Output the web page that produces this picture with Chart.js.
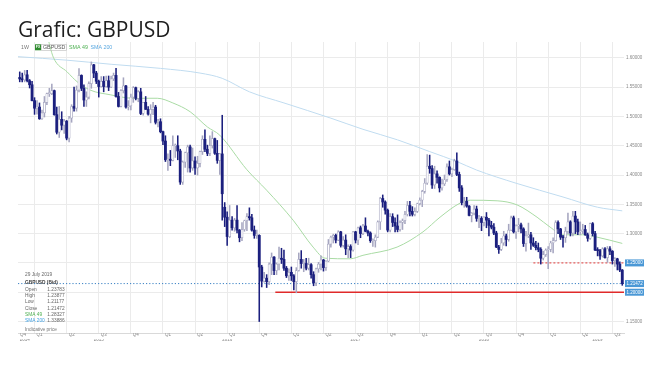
<!DOCTYPE html>
<html>
<head>
<meta charset="utf-8">
<script src="https://cdn.jsdelivr.net/npm/chart.js@4.4.1/dist/chart.umd.min.js"></script>
<style>
html, body { margin: 0; padding: 0; background: #fff; }
#wrap { position: relative; width: 660px; height: 365px; }
#title { position: absolute; left: 18px; top: 15px; font-family: "Open Sans", sans-serif; font-size: 21px; line-height: 28px; color: #1e1e1e; white-space: nowrap; }
canvas { position: absolute; left: 0; top: 0; }
</style>
</head>
<body>
<div id="wrap">
  <canvas id="chart" width="660" height="365"></canvas>
  <div id="title">Grafic: GBPUSD</div>
</div>
<script>
// Weekly GBPUSD candles, week of 24 Nov 2014 (index 0) to week of 29 Jul 2019
const opens = [
  1.5665, 1.5640, 1.5625, 1.5710, 1.5610, 1.5540,
  1.5270, 1.5140, 1.5160, 1.4960, 1.5060, 1.5240, 1.5390, 1.5390, 1.5440, 1.5030, 1.4730, 1.4950, 1.4850,
  1.4920, 1.4630, 1.4970, 1.5170, 1.5140, 1.5450, 1.5700, 1.5480, 1.5280, 1.5330, 1.5560, 1.5880, 1.5740,
  1.5600, 1.5510, 1.5600, 1.5510, 1.5610, 1.5500, 1.5640, 1.5700, 1.5340, 1.5170, 1.5440, 1.5520, 1.5160,
  1.5180, 1.5330, 1.5490, 1.5310, 1.5420, 1.5050, 1.5240, 1.5120, 1.5040, 1.5120, 1.5160, 1.4900, 1.4910,
  1.4740, 1.4580, 1.4260, 1.4270, 1.4250, 1.4500, 1.4500, 1.4410, 1.3880, 1.4220, 1.4380, 1.4480, 1.4120,
  1.4240, 1.4120, 1.4200, 1.4400, 1.4610, 1.4440, 1.4370, 1.4500, 1.4620, 1.4370, 1.4250, 1.4360, 1.3450,
  1.3280, 1.2950, 1.3230, 1.3100, 1.3230, 1.3060, 1.2930, 1.3070, 1.3220, 1.3290, 1.3270, 1.3060, 1.2970,
  1.2970, 1.2430, 1.2190, 1.2240, 1.2180, 1.2480, 1.2600, 1.2370, 1.2480, 1.2580, 1.2560, 1.2410, 1.2280,
  1.2340, 1.2280, 1.2180, 1.2370, 1.2560, 1.2490, 1.2490, 1.2410, 1.2470, 1.2300, 1.2160, 1.2400, 1.2480,
  1.2550, 1.2420, 1.2530, 1.2820, 1.2940, 1.2970, 1.2890, 1.3030, 1.2800, 1.2890, 1.2740, 1.2780, 1.2720,
  1.3030, 1.2890, 1.3100, 1.3000, 1.3130, 1.3040, 1.3010, 1.2880, 1.2880, 1.2940, 1.3200, 1.3600, 1.3540,
  1.3400, 1.3060, 1.3290, 1.3190, 1.3130, 1.3070, 1.3190, 1.3220, 1.3330, 1.3480, 1.3380, 1.3330, 1.3380,
  1.3510, 1.3570, 1.3720, 1.3860, 1.4150, 1.4110, 1.3830, 1.4020, 1.3960, 1.3780, 1.3850, 1.3920, 1.4140,
  1.4020, 1.4090, 1.4240, 1.4010, 1.3780, 1.3530, 1.3550, 1.3470, 1.3310, 1.3350, 1.3420, 1.3260, 1.3260,
  1.3190, 1.3280, 1.3230, 1.3140, 1.3110, 1.3010, 1.2770, 1.2730, 1.2840, 1.2960, 1.2900, 1.3060, 1.3270,
  1.3030, 1.3130, 1.3150, 1.3080, 1.2830, 1.2960, 1.2980, 1.2840, 1.2800, 1.2760, 1.2730, 1.2580, 1.2640,
  1.2720, 1.2730, 1.2840, 1.2880, 1.3190, 1.3080, 1.2940, 1.2930, 1.3040, 1.3200, 1.3010, 1.3300, 1.3200,
  1.3030, 1.3050, 1.3070, 1.2980, 1.2920, 1.3170, 1.3000, 1.2720, 1.2710, 1.2620, 1.2740, 1.2590, 1.2740,
  1.2700, 1.2540, 1.2570, 1.2480, 1.23783
];
const highs = [
  1.5760, 1.5740, 1.5785, 1.5785, 1.5630, 1.5600,
  1.5320, 1.5270, 1.5230, 1.5110, 1.5340, 1.5400, 1.5480, 1.5550, 1.5450, 1.5160, 1.5170, 1.5080, 1.4950,
  1.4930, 1.5000, 1.5200, 1.5500, 1.5520, 1.5815, 1.5710, 1.5540, 1.5420, 1.5590, 1.5930, 1.5890, 1.5770,
  1.5620, 1.5680, 1.5680, 1.5690, 1.5690, 1.5690, 1.5740, 1.5820, 1.5410, 1.5460, 1.5660, 1.5530, 1.5270,
  1.5380, 1.5510, 1.5500, 1.5440, 1.5480, 1.5240, 1.5340, 1.5170, 1.5200, 1.5240, 1.5190, 1.4950, 1.4960,
  1.4750, 1.4670, 1.4360, 1.4420, 1.4670, 1.4530, 1.4670, 1.4440, 1.4240, 1.4390, 1.4510, 1.4510, 1.4460,
  1.4310, 1.4320, 1.4410, 1.4670, 1.4770, 1.4510, 1.4670, 1.4740, 1.4630, 1.4590, 1.4370, 1.5020, 1.3530,
  1.3370, 1.3480, 1.3290, 1.3260, 1.3480, 1.3070, 1.3190, 1.3230, 1.3340, 1.3440, 1.3330, 1.3130, 1.3060,
  1.2980, 1.2460, 1.2340, 1.2300, 1.2500, 1.2670, 1.2610, 1.2500, 1.2770, 1.2750, 1.2720, 1.2440, 1.2400,
  1.2430, 1.2300, 1.2420, 1.2670, 1.2710, 1.2560, 1.2580, 1.2580, 1.2490, 1.2350, 1.2410, 1.2510, 1.2620,
  1.2560, 1.2540, 1.2900, 1.2960, 1.2990, 1.2990, 1.3050, 1.3040, 1.2950, 1.2980, 1.2810, 1.2810, 1.3040,
  1.3040, 1.3110, 1.3130, 1.3160, 1.3270, 1.3060, 1.3030, 1.2910, 1.2980, 1.3220, 1.3620, 1.3660, 1.3560,
  1.3420, 1.3340, 1.3340, 1.3270, 1.3320, 1.3220, 1.3250, 1.3380, 1.3550, 1.3550, 1.3460, 1.3440, 1.3520,
  1.3610, 1.3740, 1.3940, 1.4350, 1.4340, 1.4160, 1.4150, 1.4070, 1.3970, 1.3930, 1.4000, 1.4190, 1.4240,
  1.4120, 1.4270, 1.4380, 1.4050, 1.3820, 1.3620, 1.3620, 1.3480, 1.3360, 1.3480, 1.3470, 1.3310, 1.3290,
  1.3290, 1.3360, 1.3260, 1.3210, 1.3170, 1.3040, 1.2800, 1.2920, 1.3040, 1.2990, 1.3160, 1.3300, 1.3300,
  1.3150, 1.3260, 1.3180, 1.3100, 1.3040, 1.3180, 1.3020, 1.2930, 1.2870, 1.2840, 1.2760, 1.2700, 1.2740,
  1.2780, 1.2870, 1.2930, 1.3220, 1.3220, 1.3090, 1.2970, 1.3110, 1.3350, 1.3220, 1.3380, 1.3380, 1.3250,
  1.3200, 1.3160, 1.3140, 1.3010, 1.3180, 1.3190, 1.3040, 1.2760, 1.2730, 1.2760, 1.2760, 1.2780, 1.2780,
  1.2710, 1.2590, 1.2580, 1.2520, 1.23877
];
const lows = [
  1.5590, 1.5590, 1.5590, 1.5590, 1.5485, 1.5265,
  1.5035, 1.5040, 1.4950, 1.4950, 1.4990, 1.5200, 1.5340, 1.5370, 1.5020, 1.4700, 1.4640, 1.4770, 1.4710,
  1.4600, 1.4565, 1.4900, 1.5090, 1.5090, 1.5420, 1.5440, 1.5170, 1.5170, 1.5300, 1.5480, 1.5660, 1.5560,
  1.5330, 1.5500, 1.5420, 1.5500, 1.5440, 1.5490, 1.5610, 1.5330, 1.5160, 1.5160, 1.5400, 1.5140, 1.5110,
  1.5110, 1.5240, 1.5280, 1.5250, 1.5030, 1.5020, 1.5120, 1.5020, 1.4890, 1.5030, 1.4870, 1.4820, 1.4720,
  1.4520, 1.4230, 1.4080, 1.4160, 1.4240, 1.4300, 1.4260, 1.3840, 1.3840, 1.4130, 1.4050, 1.4050, 1.4080,
  1.4010, 1.4000, 1.4140, 1.4350, 1.4400, 1.4330, 1.4330, 1.4460, 1.4350, 1.4200, 1.4010, 1.3230, 1.3120,
  1.2800, 1.2930, 1.3060, 1.3040, 1.3010, 1.2860, 1.2880, 1.3040, 1.3050, 1.3230, 1.3040, 1.2920, 1.2920,
  1.1500, 1.2090, 1.2170, 1.2080, 1.2130, 1.2300, 1.2300, 1.2300, 1.2380, 1.2490, 1.2370, 1.2250, 1.2200,
  1.2200, 1.2040, 1.1990, 1.2360, 1.2410, 1.2350, 1.2380, 1.2380, 1.2240, 1.2110, 1.2110, 1.2340, 1.2380,
  1.2360, 1.2370, 1.2520, 1.2770, 1.2840, 1.2840, 1.2880, 1.2770, 1.2770, 1.2640, 1.2590, 1.2590, 1.2700,
  1.2840, 1.2810, 1.2930, 1.2980, 1.3030, 1.2960, 1.2850, 1.2780, 1.2770, 1.2930, 1.3070, 1.3450, 1.3330,
  1.3030, 1.3030, 1.3120, 1.3030, 1.3030, 1.3040, 1.3070, 1.3170, 1.3300, 1.3300, 1.3300, 1.3300, 1.3360,
  1.3490, 1.3460, 1.3690, 1.3840, 1.4030, 1.3770, 1.3770, 1.3860, 1.3710, 1.3740, 1.3820, 1.3890, 1.4000,
  1.3970, 1.4080, 1.3990, 1.3720, 1.3490, 1.3450, 1.3450, 1.3300, 1.3200, 1.3320, 1.3210, 1.3100, 1.3050,
  1.3130, 1.3100, 1.2960, 1.3080, 1.2980, 1.2760, 1.2660, 1.2710, 1.2800, 1.2790, 1.2870, 1.3050, 1.3010,
  1.2920, 1.3030, 1.3010, 1.2780, 1.2700, 1.2930, 1.2730, 1.2780, 1.2720, 1.2690, 1.2480, 1.2550, 1.2610,
  1.2400, 1.2690, 1.2670, 1.2870, 1.3000, 1.2900, 1.2770, 1.2850, 1.3000, 1.2960, 1.2960, 1.3000, 1.2980,
  1.2980, 1.3000, 1.2970, 1.2870, 1.2900, 1.2960, 1.2710, 1.2620, 1.2560, 1.2600, 1.2580, 1.2510, 1.2640,
  1.2480, 1.2440, 1.2380, 1.2350, 1.21177
];
const closes = [
  1.5640, 1.5625, 1.5710, 1.5610, 1.5540, 1.5270,
  1.5140, 1.5160, 1.4960, 1.5060, 1.5240, 1.5390, 1.5390, 1.5440, 1.5030, 1.4730, 1.4950, 1.4850, 1.4920,
  1.4630, 1.4970, 1.5170, 1.5140, 1.5450, 1.5700, 1.5480, 1.5280, 1.5330, 1.5560, 1.5880, 1.5740, 1.5600,
  1.5510, 1.5600, 1.5510, 1.5610, 1.5500, 1.5640, 1.5700, 1.5340, 1.5170, 1.5440, 1.5520, 1.5160, 1.5180,
  1.5330, 1.5490, 1.5310, 1.5420, 1.5050, 1.5240, 1.5120, 1.5040, 1.5120, 1.5160, 1.4900, 1.4910, 1.4740,
  1.4580, 1.4260, 1.4270, 1.4250, 1.4500, 1.4500, 1.4410, 1.3880, 1.4220, 1.4380, 1.4480, 1.4120, 1.4240,
  1.4120, 1.4200, 1.4400, 1.4610, 1.4440, 1.4370, 1.4500, 1.4620, 1.4370, 1.4250, 1.4360, 1.3680, 1.3280,
  1.2950, 1.3230, 1.3100, 1.3230, 1.3060, 1.2930, 1.3070, 1.3220, 1.3290, 1.3270, 1.3060, 1.2970, 1.2970,
  1.2430, 1.2190, 1.2240, 1.2180, 1.2480, 1.2600, 1.2370, 1.2480, 1.2580, 1.2560, 1.2410, 1.2280, 1.2340,
  1.2280, 1.2180, 1.2370, 1.2560, 1.2490, 1.2490, 1.2410, 1.2470, 1.2300, 1.2160, 1.2400, 1.2480, 1.2550,
  1.2420, 1.2530, 1.2820, 1.2940, 1.2970, 1.2890, 1.3030, 1.2800, 1.2890, 1.2740, 1.2780, 1.2720, 1.3030,
  1.2890, 1.3100, 1.3000, 1.3130, 1.3040, 1.3010, 1.2880, 1.2880, 1.2940, 1.3200, 1.3600, 1.3540, 1.3400,
  1.3060, 1.3290, 1.3190, 1.3130, 1.3070, 1.3190, 1.3220, 1.3330, 1.3480, 1.3380, 1.3330, 1.3380, 1.3510,
  1.3570, 1.3720, 1.3860, 1.4150, 1.4110, 1.3830, 1.4020, 1.3960, 1.3780, 1.3850, 1.3920, 1.4140, 1.4020,
  1.4090, 1.4240, 1.4010, 1.3780, 1.3530, 1.3550, 1.3470, 1.3310, 1.3350, 1.3420, 1.3260, 1.3260, 1.3190,
  1.3280, 1.3230, 1.3140, 1.3110, 1.3010, 1.2770, 1.2730, 1.2840, 1.2960, 1.2900, 1.3060, 1.3270, 1.3030,
  1.3130, 1.3150, 1.3080, 1.2830, 1.2960, 1.2980, 1.2840, 1.2800, 1.2760, 1.2730, 1.2580, 1.2640, 1.2720,
  1.2730, 1.2840, 1.2880, 1.3190, 1.3080, 1.2940, 1.2930, 1.3040, 1.3200, 1.3010, 1.3300, 1.3200, 1.3030,
  1.3050, 1.3070, 1.2980, 1.2920, 1.3170, 1.3000, 1.2720, 1.2710, 1.2620, 1.2740, 1.2590, 1.2740, 1.2700,
  1.2540, 1.2570, 1.2480, 1.23783, 1.21472
];

// moving averages (week index -> price)
const sma49Weeks  = [11, 13.6, 19.2, 23.3, 28.5, 36.6, 46, 55.7, 62, 69, 76, 81, 92, 100, 110.7, 118.8, 123.7, 133.8, 139, 152.8, 163.3, 170.2, 178.3, 182.4, 193.3, 201.4, 209.5, 214.8, 220, 228, 233.8, 244];
const sma49Values = [1.640, 1.601, 1.576, 1.559, 1.545, 1.537, 1.531, 1.531, 1.523, 1.508, 1.482, 1.468, 1.409, 1.374, 1.323, 1.277, 1.258, 1.257, 1.263, 1.277, 1.303, 1.328, 1.352, 1.357, 1.356, 1.349, 1.328, 1.311, 1.298, 1.298, 1.294, 1.28327];
const sma200Weeks  = [-0.7, 19, 37, 57, 73, 82, 93, 107, 126, 139, 153, 166, 177, 185, 201, 220, 234, 244];
const sma200Values = [1.602, 1.596, 1.589, 1.582, 1.574, 1.565, 1.542, 1.523, 1.497, 1.478, 1.460, 1.440, 1.423, 1.4085, 1.386, 1.3625, 1.345, 1.33886];

// horizontal levels
const levelPrices = [1.25, 1.21472, 1.20];
const levelStartWeeks = [208, -0.7, 103.5];

// axes
const quarterTickWeeks = [-0.7, 6, 19, 32, 45, 58, 71, 84, 97, 110, 123, 136, 149, 162, 175, 188, 201, 214, 227, 240];
const quarterTickLabels = ['Q4', 'Q1', 'Q2', 'Q3', 'Q4', 'Q1', 'Q2', 'Q3', 'Q4', 'Q1', 'Q2', 'Q3', 'Q4', 'Q1', 'Q2', 'Q3', 'Q4', 'Q1', 'Q2', 'Q3'];
const yearTickWeeks = [2, 32, 84, 136, 188, 234];
const yearTickLabels = ['2014', '2015', '2016', '2017', '2018', '2019'];
const priceTicks = [1.15, 1.20, 1.25, 1.30, 1.35, 1.40, 1.45, 1.50, 1.55, 1.60];

if (opens.length !== closes.length || highs.length !== closes.length || lows.length !== closes.length) {
    throw new Error('length mismatch ' + [opens.length, highs.length, lows.length, closes.length].join(','));
}

const xMin = -0.7, xMax = 244.7;
const yMin = 1.1304, yMax = 1.627;
const bearColor = '#1b1f7e';
const bullLine = '#a6a6c0';
const tinyFont = '"Liberation Sans", Arial, sans-serif';

const isBull = i => closes[i] >= opens[i];

const overlayPlugin = {
    id: 'overlay',
    afterDraw(chart) {
        const { ctx, chartArea, scales: { y } } = chart;
        const last = closes.length - 1;
        ctx.save();
        ctx.textBaseline = 'middle';

        // price badges on the right axis
        levelPrices.forEach(p => {
            const py = y.getPixelForValue(p);
            ctx.fillStyle = '#4a98d6';
            ctx.fillRect(chartArea.right + 1, py - 3.5, 19, 7);
            ctx.fillStyle = '#ffffff';
            ctx.font = '4.5px ' + tinyFont;
            ctx.fillText(p.toFixed(5), chartArea.right + 2.5, py + 0.3);
        });

        // legend row
        ctx.font = '5.3px ' + tinyFont;
        ctx.fillStyle = '#777';
        ctx.fillText('1W', 21, 47.5);
        ctx.fillStyle = '#2e8b2e';
        ctx.fillRect(35, 44.3, 6, 6);
        ctx.fillStyle = '#fff';
        ctx.font = 'bold 3.5px ' + tinyFont;
        ctx.fillText('FX', 35.8, 47.5);
        ctx.strokeStyle = '#bbb';
        ctx.lineWidth = 0.6;
        ctx.strokeRect(41.5, 44.3, 25, 6.2);
        ctx.font = '5.3px ' + tinyFont;
        ctx.fillStyle = '#555';
        ctx.fillText('GBPUSD', 43, 47.5);
        ctx.fillStyle = '#4caf50';
        ctx.fillText('SMA 49', 69, 47.5);
        ctx.fillStyle = '#5aa8e0';
        ctx.fillText('SMA 200', 90.5, 47.5);

        // info box
        ctx.font = '4.8px ' + tinyFont;
        ctx.fillStyle = '#666';
        ctx.fillText('29 July 2019', 25, 274.3);
        ctx.fillStyle = '#444';
        ctx.font = 'bold 4.8px ' + tinyFont;
        ctx.fillText('GBPUSD (Bid)', 25, 282.3);
        ctx.font = '4.8px ' + tinyFont;
        const rows = [
            ['Open', opens[last], '#666'],
            ['High', highs[last], '#666'],
            ['Low', lows[last], '#666'],
            ['Close', closes[last], '#666'],
            ['SMA 49', sma49Values[sma49Values.length - 1], '#4caf50'],
            ['SMA 200', sma200Values[sma200Values.length - 1], '#42a0e0']
        ];
        rows.forEach((r, k) => {
            const ry = 289.3 + k * 6.3;
            ctx.fillStyle = r[2];
            ctx.fillText(r[0], 25, ry);
            ctx.fillStyle = '#666';
            ctx.fillText(r[1].toFixed(5), 47.3, ry);
        });
        ctx.fillStyle = '#777';
        ctx.fillText('Indicative price', 25, 329.3);
        ctx.restore();
    }
};

new Chart(document.getElementById('chart'), {
    type: 'line',
    data: {
        datasets: [
            {
                type: 'bar',
                label: 'bodies',
                data: closes.map((c, i) => ({ x: i, y: [opens[i], c] })),
                grouped: false,
                barThickness: 2.2,
                minBarLength: 1,
                borderWidth: ctx => isBull(ctx.dataIndex) ? 0.7 : 0,
                borderSkipped: false,
                backgroundColor: ctx => isBull(ctx.dataIndex) ? '#ffffff' : bearColor,
                borderColor: bullLine,
                order: 0
            },
            {
                type: 'bar',
                label: 'wicks',
                data: closes.map((c, i) => ({ x: i, y: [lows[i], highs[i]] })),
                grouped: false,
                barThickness: 0.9,
                borderWidth: 0,
                backgroundColor: ctx => isBull(ctx.dataIndex) ? bullLine : bearColor,
                order: 1
            },
            {
                label: 'level 1.25',
                data: [{ x: levelStartWeeks[0], y: levelPrices[0] }, { x: xMax, y: levelPrices[0] }],
                borderColor: '#e23b3b',
                borderWidth: 1,
                borderDash: [2, 2],
                pointRadius: 0,
                order: 2
            },
            {
                label: 'close',
                data: [{ x: levelStartWeeks[1], y: levelPrices[1] }, { x: xMax, y: levelPrices[1] }],
                borderColor: '#3b82c4',
                borderWidth: 1,
                borderDash: [1.2, 2],
                pointRadius: 0,
                order: 2
            },
            {
                label: 'level 1.20',
                data: [{ x: levelStartWeeks[2], y: levelPrices[2] }, { x: xMax, y: levelPrices[2] }],
                borderColor: '#e02a2a',
                borderWidth: 1.4,
                pointRadius: 0,
                order: 2
            },
            {
                label: 'SMA 49',
                data: sma49Weeks.map((w, k) => ({ x: w, y: sma49Values[k] })),
                borderColor: '#a9dba4',
                borderWidth: 1,
                pointRadius: 0,
                cubicInterpolationMode: 'monotone',
                order: 3
            },
            {
                label: 'SMA 200',
                data: sma200Weeks.map((w, k) => ({ x: w, y: sma200Values[k] })),
                borderColor: '#c0dcf0',
                borderWidth: 1,
                pointRadius: 0,
                cubicInterpolationMode: 'monotone',
                order: 3
            }
        ]
    },
    options: {
        responsive: false,
        animation: false,
        events: [],
        layout: { padding: { left: 18, right: 0, top: 42, bottom: 18 } },
        plugins: {
            legend: { display: false },
            tooltip: { enabled: false },
            title: { display: false }
        },
        scales: {
            x: {
                type: 'linear',
                position: 'bottom',
                weight: 0,
                min: xMin,
                max: xMax,
                offset: false,
                grid: {
                    offset: false,
                    drawTicks: false,
                    color: ctx => ctx.index === 0 ? 'rgba(0,0,0,0)' : '#ebebeb'
                },
                border: { display: true, color: '#d9d9d9' },
                afterBuildTicks: scale => { scale.ticks = quarterTickWeeks.map(v => ({ value: v })); },
                afterFit: scale => { scale.height = 6; },
                ticks: {
                    autoSkip: false,
                    maxRotation: 0,
                    minRotation: 0,
                    align: 'start',
                    labelOffset: 2,
                    padding: -1,
                    color: '#888',
                    font: { family: tinyFont, size: 4.5 },
                    callback: (v, i) => quarterTickLabels[i]
                }
            },
            x2: {
                type: 'linear',
                position: 'bottom',
                weight: 1,
                min: xMin,
                max: xMax,
                offset: false,
                grid: { display: false, drawTicks: false },
                border: { display: false },
                afterBuildTicks: scale => { scale.ticks = yearTickWeeks.map(v => ({ value: v })); },
                afterFit: scale => { scale.height = 8; },
                ticks: {
                    autoSkip: false,
                    maxRotation: 0,
                    minRotation: 0,
                    padding: -1.5,
                    color: '#888',
                    font: { family: tinyFont, size: 4.5 },
                    callback: (v, i) => yearTickLabels[i]
                }
            },
            y: {
                type: 'linear',
                position: 'right',
                min: yMin,
                max: yMax,
                grid: { color: '#ebebeb', drawTicks: false },
                border: { display: false },
                afterBuildTicks: scale => { scale.ticks = priceTicks.map(v => ({ value: v })); },
                afterFit: scale => { scale.width = 36; },
                ticks: {
                    padding: 2,
                    color: '#888',
                    font: { family: tinyFont, size: 4.5 },
                    callback: v => v.toFixed(5)
                }
            }
        }
    },
    plugins: [overlayPlugin]
});
</script>
</body>
</html>
